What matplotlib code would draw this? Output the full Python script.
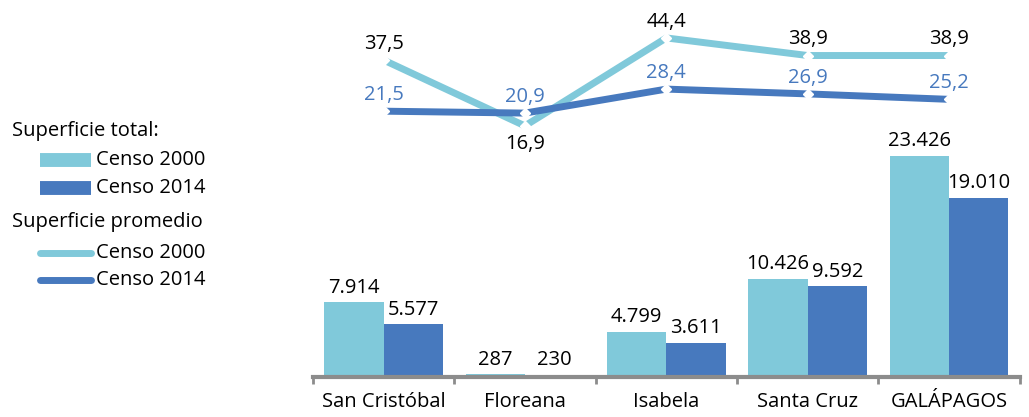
import matplotlib
matplotlib.use('Agg')
import matplotlib.pyplot as plt
from matplotlib.lines import Line2D

plt.rcParams['font.family'] = ['Open Sans', 'DejaVu Sans']

categorias = ['San Cristóbal', 'Floreana', 'Isabela', 'Santa Cruz', 'GALÁPAGOS']
total_2000 = [7914, 287, 4799, 10426, 23426]
total_2014 = [5577, 230, 3611, 9592, 19010]
prom_2000 = [37.5, 16.9, 44.4, 38.9, 38.9]
prom_2014 = [21.5, 20.9, 28.4, 26.9, 25.2]

c2000 = '#80C9DA'
c2014 = '#4779BE'
gris = '#8C8C8C'
fs = 14.5


def miles(v):
    return f'{v:,}'.replace(',', '.')


def coma(v):
    return f'{v:.1f}'.replace('.', ',')


fig = plt.figure(figsize=(10.29, 4.17), dpi=100)
ax = fig.add_axes([0.304, 0.096, 0.687, 0.856])
ax2 = ax.twinx()

x = list(range(len(categorias)))
w = 0.42
ax.bar([i - w / 2 for i in x], total_2000, w, color=c2000)
ax.bar([i + w / 2 for i in x], total_2014, w, color=c2014)
for i in x:
    ax.text(i - w / 2, total_2000[i] + 500, miles(total_2000[i]), ha='center', va='bottom', fontsize=fs)
    ax.text(i + w / 2, total_2014[i] + 500, miles(total_2014[i]), ha='center', va='bottom', fontsize=fs)

ax.set_xlim(-0.5, 4.5)
ax.set_ylim(0, 37840)
ax.set_xticks([i + 0.5 for i in range(-1, 5)], minor=False)
ax.set_xticklabels([])
ax.set_xticks(x, minor=True)
ax.set_xticklabels(categorias, minor=True, fontsize=fs)
ax.tick_params(axis='x', which='minor', length=0, pad=11)
ax.tick_params(axis='x', which='major', length=5, width=2, color=gris)
ax.set_yticks([])
for s in ['top', 'right', 'left']:
    ax.spines[s].set_visible(False)
ax.spines['bottom'].set_color(gris)
ax.spines['bottom'].set_linewidth(3)

ax2.plot(x, prom_2000, color=c2000, lw=5, marker='D', ms=5, mfc='white', mec='white', solid_capstyle='butt')
ax2.plot(x, prom_2014, color=c2014, lw=5, marker='D', ms=5, mfc='white', mec='white', solid_capstyle='butt')
ax2.set_ylim(-61.6, 50)
ax2.set_yticks([])
for s in ax2.spines.values():
    s.set_visible(False)

for i in x:
    if i == 1:
        ax2.text(i, prom_2000[i] - 2.5, coma(prom_2000[i]), ha='center', va='top', fontsize=fs)
    else:
        ax2.text(i, prom_2000[i] + 2, coma(prom_2000[i]), ha='center', va='bottom', fontsize=fs)
    ax2.text(i, prom_2014[i] + 2, coma(prom_2014[i]), ha='center', va='bottom', fontsize=fs, color=c2014)

# leyenda manual
def fy(py):
    return 1 - py / 417


fig.text(12 / 1029, fy(131), 'Superficie total:', fontsize=fs, va='center')
fig.text(12 / 1029, fy(222), 'Superficie promedio', fontsize=fs, va='center')
entradas = [(160, c2000, 'Censo 2000', 10), (188, c2014, 'Censo 2014', 10),
            (253, c2000, 'Censo 2000', 5), (280, c2014, 'Censo 2014', 5)]
for py, col, txt, lw in entradas:
    fig.add_artist(Line2D([40 / 1029, 91 / 1029], [fy(py), fy(py)], color=col, lw=lw,
                          solid_capstyle='butt' if lw > 5 else 'round'))
    fig.text(96 / 1029, fy(py), txt, fontsize=fs, va='center')

fig.savefig('out.png', dpi=100)
